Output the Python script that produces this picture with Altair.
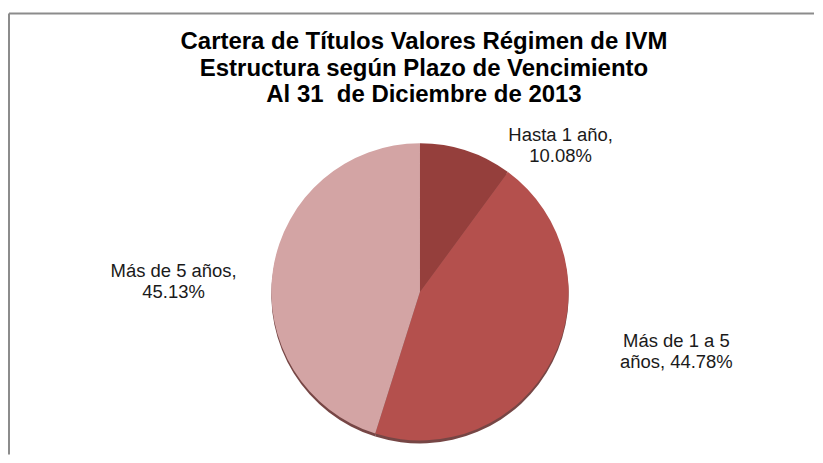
import altair as alt
import pandas as pd

# ---- data ----
categories = ["Hasta 1 año", "Más de 1 a 5 años", "Más de 5 años"]
values = [10.08, 44.78, 45.13]
label_texts = ["Hasta 1 año,\n10.08%", "Más de 1 a 5\naños, 44.78%", "Más de 5 años,\n45.13%"]
colors = ["#953F3C", "#B4504D", "#D3A4A4"]
title_lines = ["Cartera de Títulos Valores Régimen de IVM",
               "Estructura según Plazo de Vencimiento",
               "Al 31\u00a0 de Diciembre de 2013"]

df = pd.DataFrame({"cat": categories, "val": values, "order": list(range(len(categories)))})

W, H = 807, 447
CX, CY, R = 412, 284, 149
FONT = "Liberation Sans"

shadow = alt.Chart(df).mark_arc(radius=R, color="#5E2624", opacity=0.85).encode(
    theta=alt.Theta("val:Q", stack=True),
    order=alt.Order("order:Q"),
    x=alt.value(CX), y=alt.value(CY + 3),
)

pie = alt.Chart(df).mark_arc(radius=R).encode(
    theta=alt.Theta("val:Q", stack=True),
    order=alt.Order("order:Q"),
    color=alt.Color("cat:N", scale=alt.Scale(domain=categories, range=colors), legend=None),
    x=alt.value(CX), y=alt.value(CY),
)

title = alt.Chart(pd.DataFrame({"t": ["\n".join(title_lines)]})).mark_text(
    font=FONT, fontSize=24, fontWeight="bold", color="#000000", align="center",
    baseline="alphabetic", lineBreak="\n", lineHeight=26.3,
).encode(text="t:N", x=alt.value(416), y=alt.value(41))

label_pos = [(553, 133), (669, 339), (165, 269)]
labels = []
for txt, (lx, ly) in zip(label_texts, label_pos):
    labels.append(
        alt.Chart(pd.DataFrame({"t": [txt]})).mark_text(
            font=FONT, fontSize=18.5, color="#1a1a1a", align="center",
            baseline="alphabetic", lineBreak="\n", lineHeight=21,
        ).encode(text="t:N", x=alt.value(lx), y=alt.value(ly))
    )

frame_left = alt.Chart(pd.DataFrame({"a": [0]})).mark_rule(color="#8C8C8C", strokeWidth=2).encode(
    x=alt.value(0), y=alt.value(5), y2=alt.value(H))
frame_top = alt.Chart(pd.DataFrame({"a": [0]})).mark_rule(color="#8C8C8C", strokeWidth=2).encode(
    x=alt.value(0), x2=alt.value(W), y=alt.value(5))

chart = alt.layer(frame_left, frame_top, shadow, pie, title, *labels).properties(
    width=W, height=H, padding=0, background="#ffffff"
).configure_view(stroke=None)

chart.save("out.html", embed_options={"renderer": "svg", "actions": False})
